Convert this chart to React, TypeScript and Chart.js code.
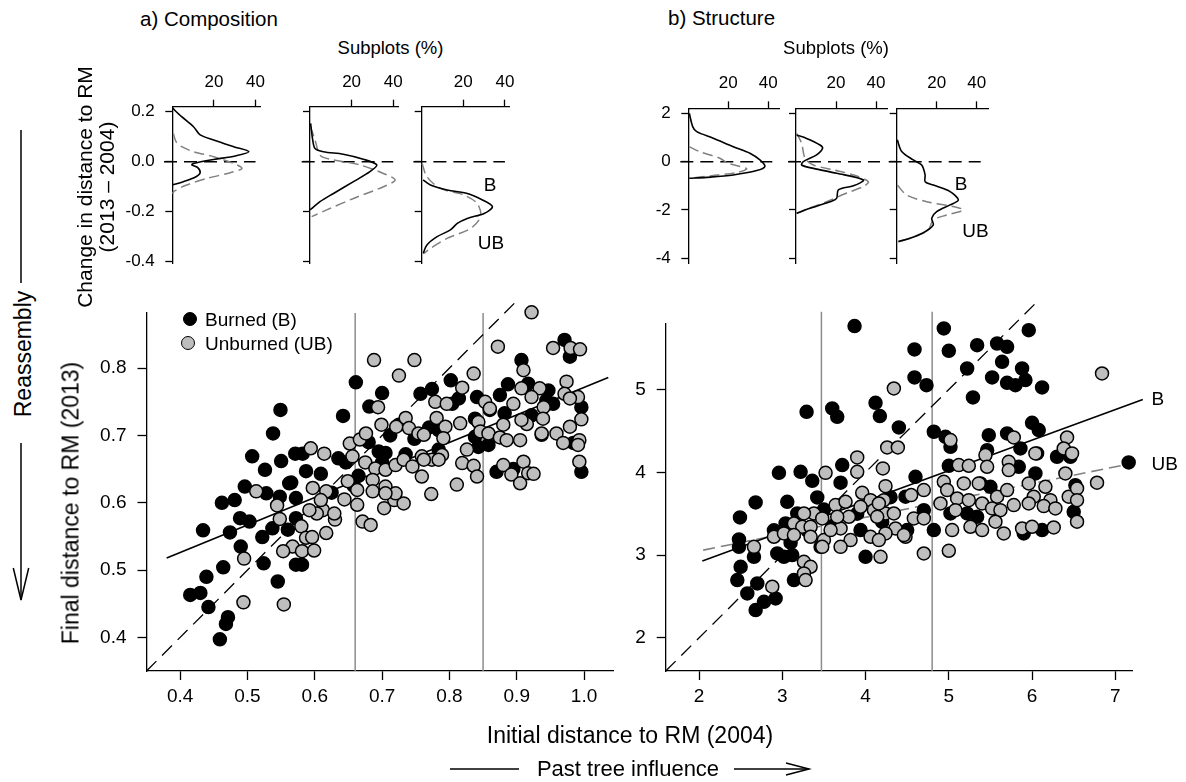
import React, { useEffect, useRef } from "react";
import { Chart, registerables } from "chart.js";

Chart.register(...registerables);

const FONT = "'Liberation Sans', Arial, Helvetica, sans-serif";
Chart.defaults.font.family = FONT;
Chart.defaults.color = "#000";

// ---------------- Scatter data: a) Composition ----------------
const compBurnedX = [0.661,0.700,0.681,0.642,0.757,0.774,0.549,0.538,0.507,0.526,0.550,0.571,0.582,0.587,0.609,0.635,0.646,0.695,0.705,0.496,0.565,
  0.462,0.481,0.434,0.474,0.489,0.503,0.490,0.522,0.524,0.537,0.545,0.572,0.581,0.464,0.439,0.415,0.430,0.442,0.471,0.468,0.459,0.528,0.548,0.562,0.572,0.560,0.572,
  0.907,0.887,0.802,0.971,0.979,0.875,0.917,0.947,0.944,0.954,0.996,0.841,0.814,0.804,0.860,0.838,0.882,0.922,0.843,0.858,0.838,0.784,0.937,0.984,0.870,0.996,0.895,0.784,
  0.712,0.725,0.748,0.665,0.700,0.625,0.680,0.770,0.735,0.658];
const compBurnedY = [0.779,0.763,0.743,0.729,0.762,0.769,0.738,0.703,0.669,0.649,0.662,0.673,0.673,0.647,0.643,0.666,0.660,0.676,0.674,0.624,0.630,
  0.600,0.604,0.559,0.556,0.577,0.572,0.535,0.549,0.510,0.562,0.483,0.508,0.508,0.504,0.490,0.463,0.466,0.445,0.430,0.420,0.397,0.614,0.609,0.629,0.607,0.560,0.577,
  0.812,0.776,0.782,0.842,0.817,0.760,0.777,0.767,0.752,0.747,0.742,0.757,0.755,0.747,0.738,0.725,0.733,0.730,0.683,0.686,0.698,0.708,0.701,0.689,0.646,0.646,0.650,0.679,
  0.700,0.716,0.695,0.640,0.660,0.615,0.690,0.712,0.672,0.625];

const compUnburnedX = [0.688,0.748,0.725,0.694,0.779,0.699,0.721,0.735,0.740,0.754,0.762,0.781,0.594,0.614,0.652,0.667,0.676,0.656,0.675,0.690,0.705,0.720,0.732,0.745,0.759,0.774,0.759,0.513,0.597,0.617,0.649,0.663,0.686,0.705,
  0.544,0.548,0.495,0.494,0.554,0.580,0.567,0.553,0.581,0.599,0.587,0.596,0.612,0.603,0.617,0.630,0.629,0.644,0.663,0.671,0.683,0.703,0.718,0.732,0.720,0.686,0.705,0.773,0.592,0.609,
  0.922,0.872,0.954,0.980,0.994,0.910,0.836,0.819,0.907,0.934,0.974,0.971,0.991,0.979,0.796,0.853,0.895,0.922,0.940,0.939,0.915,0.907,0.794,0.816,0.843,0.860,0.846,0.858,0.880,0.875,0.885,0.905,0.937,0.959,0.969,0.979,0.996,0.993,0.991,
  0.826,0.819,0.836,0.841,0.789,0.784,0.762,0.811,0.880,0.892,0.910,0.905,0.917,0.925,0.791,0.993];
const compUnburnedY = [0.812,0.812,0.789,0.742,0.750,0.716,0.713,0.726,0.711,0.703,0.701,0.726,0.681,0.673,0.688,0.694,0.703,0.669,0.660,0.651,0.649,0.656,0.664,0.654,0.669,0.664,0.639,0.617,0.622,0.617,0.632,0.619,0.634,0.624,
  0.596,0.576,0.517,0.452,0.449,0.565,0.535,0.528,0.528,0.529,0.548,0.549,0.589,0.584,0.555,0.575,0.584,0.605,0.597,0.572,0.567,0.592,0.604,0.599,0.614,0.617,0.614,0.613,0.589,0.604,
  0.883,0.832,0.830,0.830,0.828,0.797,0.792,0.771,0.770,0.770,0.780,0.762,0.757,0.755,0.747,0.750,0.747,0.757,0.742,0.725,0.717,0.723,0.713,0.718,0.720,0.740,0.706,0.703,0.716,0.697,0.693,0.693,0.703,0.703,0.689,0.713,0.724,0.693,0.686,
  0.679,0.659,0.655,0.639,0.671,0.664,0.664,0.627,0.656,0.642,0.661,0.629,0.644,0.643,0.696,0.661];

// ---------------- Scatter data: b) Structure ----------------
const strucBurnedX = [3.868,4.588,4.588,4.732,4.12,4.172,4.40,3.292,3.60,3.66,4.82,2.96,3.22,3.36,3.72,3.70,2.68,2.492,3.06,3.42,4.60,2.48,2.48,2.50,2.46,2.70,2.58,2.68,2.78,2.92,2.94,3.02,3.14,3.12,3.04,3.18,3.46,3.94,4.0,4.50,4.70,4.82,4.48,2.66,
  5.40,4.94,5.96,5.00,5.34,5.58,5.70,5.64,5.22,5.52,5.70,5.80,5.88,5.92,6.12,5.29,6.00,6.08,4.96,5.02,5.48,5.70,5.86,6.06,6.30,6.46,5.00,5.46,5.84,6.04,6.52,6.50,5.38,5.50,5.02,5.22,5.34,5.90,6.12,7.16,
  3.30,3.60,3.90,4.30,3.50,2.90,3.10,4.20];
const strucBurnedY = [5.766,5.484,5.146,5.053,4.84,4.679,4.542,4.731,4.771,4.671,4.49,3.994,4.006,3.898,4.087,3.874,3.636,3.455,3.644,3.696,3.946,3.189,3.10,2.859,2.698,2.658,2.537,2.336,2.436,2.477,3.02,2.98,2.698,3.0,3.382,3.503,3.10,3.302,2.98,3.302,3.543,3.302,3.705,2.98,
  5.927,5.738,5.717,5.468,5.536,5.556,5.516,5.335,5.254,5.146,5.081,5.053,5.254,5.114,5.025,4.904,4.598,4.51,4.429,4.308,4.449,4.469,4.288,4.228,4.188,4.188,4.079,4.268,4.067,3.986,3.845,3.523,3.866,3.825,3.503,3.503,3.463,3.262,3.302,4.119,
  3.30,3.35,3.50,3.70,3.55,3.30,3.15,3.40];

const strucUnburnedX = [4.34,3.90,3.90,3.52,4.26,4.388,4.208,3.96,4.24,4.70,4.548,4.58,4.70,4.70,4.18,4.06,4.10,4.22,4.24,4.36,4.48,3.38,3.26,3.14,3.24,3.34,2.90,3.02,2.66,2.88,3.26,3.34,3.26,3.28,3.50,3.48,3.64,3.76,3.80,3.70,3.58,3.82,3.70,3.48,3.94,4.14,4.24,4.06,4.16,4.16,4.34,3.14,3.34,3.66,
  6.84,5.78,5.02,6.42,6.38,6.48,6.04,5.44,5.72,5.72,5.12,5.24,5.46,4.94,5.18,5.36,5.96,6.16,6.78,4.98,5.10,4.90,5.24,5.58,5.70,6.02,6.22,6.40,6.44,6.54,6.54,5.40,5.52,5.62,5.78,5.96,6.14,6.28,5.08,4.46,5.26,5.40,5.56,5.66,5.88,6.00,6.26,6.54,5.04,5.00];
const strucUnburnedY = [5.013,4.18,4.006,3.994,4.30,4.30,4.047,3.753,3.833,3.785,3.725,3.443,3.443,3.02,2.98,3.664,3.543,3.664,3.503,3.322,3.221,3.503,3.503,3.382,3.342,3.342,3.221,3.262,3.10,2.618,2.919,2.859,2.779,2.698,3.181,3.443,3.604,3.644,3.463,3.322,3.302,3.181,3.10,3.10,3.584,3.463,3.262,3.221,3.181,3.624,3.503,3.242,3.221,3.463,
  5.194,4.421,4.389,4.421,4.288,4.228,4.228,4.208,4.127,4.027,4.087,4.079,4.067,3.886,3.866,3.866,3.866,3.825,3.874,3.785,3.684,3.624,3.664,3.705,3.785,3.705,3.664,3.986,3.705,3.805,3.664,3.624,3.564,3.543,3.604,3.624,3.592,3.564,3.543,3.242,3.342,3.302,3.403,3.262,3.322,3.342,3.334,3.403,3.302,3.052];

// reference / regression lines
const compOneToOne = [0.35, 0.9];
const compRefLines = [0.66, 0.85];
const compFitBX = [0.38, 1.036];
const compFitBY = [0.518, 0.786];
const strucOneToOne = [1.6, 6.08];
const strucRefLines = [3.47, 4.8];
const strucFitBX = [2.04, 7.33];
const strucFitBY = [2.93, 4.88];
const strucFitUBX = [2.05, 7.21];
const strucFitUBY = [3.06, 4.11];

// axis ticks
const compXTicks = [0.4, 0.5, 0.6, 0.7, 0.8, 0.9, 1.0];
const compYTicks = [0.4, 0.5, 0.6, 0.7, 0.8];
const strucXTicks = [2, 3, 4, 5, 6, 7];
const strucYTicks = [2, 3, 4, 5];
const densPctTicks = [20, 40];
const densCompTicks = [0.2, 0, -0.2, -0.4];
const densStrucTicks = [2, 0, -2, -4];

// ---------------- Density curves (Subplots %, change) ----------------
const a1BPct = [0, 4.5, 10.2, 13.4, 19.9, 29.5, 36.8, 30.3, 19.9, 10.2, 9.4, 12.1, 13.4, 11.4, 5.3, 0];
const a1BVal = [0.215, 0.18, 0.14, 0.107, 0.087, 0.06, 0.04, 0.023, 0.009, -0.007, -0.013, -0.023, -0.044, -0.06, -0.08, -0.093];
const a1UBPct = [0.5, 1.8, 4.5, 10.2, 19.9, 29.5, 33.5, 27.9, 16.6, 6.9, 1.3, 0];
const a1UBVal = [0.113, 0.08, 0.06, 0.04, 0.02, -0.007, -0.027, -0.044, -0.067, -0.093, -0.116, -0.127];
const a2BPct = [0.3, 1.3, 2.4, 6.4, 16, 25.6, 32.1, 28.8, 20.9, 11.3, 4.8, 0];
const a2BVal = [0.153, 0.087, 0.053, 0.04, 0.03, 0.01, -0.013, -0.04, -0.08, -0.127, -0.16, -0.193];
const a2UBPct = [0.2, 2.4, 4, 5.6, 11.3, 24, 35.3, 40.9, 35.3, 20.9, 8, 0.8];
const a2UBVal = [0.14, 0.087, 0.04, 0.02, 0.007, -0.013, -0.047, -0.073, -0.1, -0.147, -0.193, -0.22];
const a3BPct = [0.7, 4.2, 12.2, 21.9, 29.2, 34, 30, 21.9, 17.1, 13.8, 7.4, 2.5, 0.7];
const a3BVal = [-0.073, -0.093, -0.113, -0.127, -0.153, -0.18, -0.207, -0.227, -0.247, -0.273, -0.3, -0.333, -0.367];
const a3UBPct = [0.2, 2.5, 9, 20.2, 26.7, 28.3, 23.5, 12.2, 4.2, 1];
const a3UBVal = [-0.007, -0.06, -0.107, -0.133, -0.167, -0.22, -0.267, -0.307, -0.347, -0.367];

const b1BPct = [0.5, 2.2, 4.2, 12.5, 22.5, 30.8, 35.8, 38.3, 34.2, 22.5, 9.2, 0.5];
const b1BVal = [2.0, 1.45, 1.24, 0.97, 0.62, 0.35, 0.07, -0.2, -0.37, -0.55, -0.65, -0.69];
const b1UBPct = [0.5, 5.8, 15.8, 20, 25.8, 29.2, 24.2, 10.8, 0.5];
const b1UBVal = [0.62, 0.41, 0.14, -0.07, -0.2, -0.3, -0.45, -0.59, -0.69];
const b2BPct = [0.3, 5.3, 12, 13.3, 10.3, 3.7, 2.8, 8.7, 20.3, 33.7, 28.7, 21.2, 20.3, 17, 7, 0.3];
const b2BVal = [1.1, 0.96, 0.69, 0.55, 0.28, 0.0, -0.14, -0.28, -0.48, -0.76, -1.0, -1.17, -1.52, -1.66, -1.93, -2.14];
const b2UBPct = [0.3, 2.8, 4.5, 8.7, 18.7, 28.7, 36.2, 33.7, 25.3, 15.3, 5.3, 0.3];
const b2UBVal = [1.17, 0.76, 0.14, -0.14, -0.34, -0.55, -0.83, -1.03, -1.3, -1.66, -1.97, -2.14];
const b3BPct = [0.3, 2.5, 8.3, 12.5, 14.2, 14.2, 18.3, 26.7, 30.8, 26.7, 20, 17.5, 18.3, 14.2, 6.7, 0.8];
const b3BVal = [0.9, 0.42, 0.07, -0.14, -0.55, -0.83, -0.97, -1.24, -1.59, -1.79, -2.07, -2.34, -2.62, -2.9, -3.17, -3.31];
const b3UBPct = [0.3, 5, 15, 28.3, 33.3, 25, 18.3, 15.8, 8.3, 0.8];
const b3UBVal = [-0.97, -1.38, -1.66, -1.86, -2.0, -2.21, -2.41, -2.83, -3.13, -3.31];

// ---------------- helpers ----------------
const zip = (xs: number[], ys: number[]) => xs.map((x, i) => ({ x, y: ys[i] }));

const fitAxis = (size: number) => (scale: any) => {
  if (scale.isHorizontal()) scale.height = size;
  else scale.width = size;
  scale.paddingLeft = 0;
  scale.paddingRight = 0;
  scale.paddingTop = 0;
  scale.paddingBottom = 0;
};
const setTicks = (vals: number[]) => (scale: any) => {
  scale.ticks = vals.map((v) => ({ value: v }));
};

type Box = { left: number; top: number; width: number; height: number };

function ChartCanvas({ box, config }: { box: Box; config: any }) {
  const ref = useRef<HTMLCanvasElement>(null);
  useEffect(() => {
    const chart = new Chart(ref.current as HTMLCanvasElement, config);
    return () => chart.destroy();
  }, []);
  return (
    <canvas
      ref={ref}
      width={box.width}
      height={box.height}
      style={{ position: "absolute", left: box.left, top: box.top, width: box.width, height: box.height }}
    />
  );
}

const axisGrid = (len: number) => ({
  display: true,
  drawOnChartArea: false,
  drawTicks: true,
  tickLength: len,
  tickWidth: 1.3,
  tickColor: "#000",
});
const axisBorder = { display: true, color: "#000", width: 1.3 };

function lineDs(xs: number[], ys: number[], color: string, width: number, dash: number[], order: number, tension = 0) {
  return {
    data: zip(xs, ys),
    showLine: true,
    borderColor: color,
    borderWidth: width,
    borderDash: dash,
    pointRadius: 0,
    fill: false,
    tension,
    order,
    clip: false,
  };
}
function pointDs(xs: number[], ys: number[], fillColor: string, order: number) {
  return {
    data: zip(xs, ys),
    showLine: false,
    pointRadius: 6.5,
    pointBorderWidth: 1.5,
    pointBackgroundColor: fillColor,
    pointBorderColor: "#000",
    backgroundColor: fillColor,
    borderColor: "#000",
    order,
    clip: false,
  };
}

function scatterConfig(o: any) {
  return {
    type: "scatter",
    data: { datasets: o.datasets },
    options: {
      animation: false,
      responsive: false,
      devicePixelRatio: 1,
      events: [],
      layout: { autoPadding: false, padding: { left: 0, top: o.padTop, right: o.padRight, bottom: 0 } },
      plugins: { legend: { display: false }, tooltip: { enabled: false } },
      scales: {
        x: {
          type: "linear",
          position: "bottom",
          min: o.xMin,
          max: o.xMax,
          afterBuildTicks: setTicks(o.xTicks),
          afterFit: fitAxis(o.xAxisH),
          ticks: { autoSkip: false, maxRotation: 0, padding: 5, color: "#000", font: { family: FONT, size: 19 }, callback: (v: any) => Number(v).toFixed(o.xDec) },
          grid: axisGrid(9),
          border: axisBorder,
        },
        y: {
          type: "linear",
          position: "left",
          min: o.yMin,
          max: o.yMax,
          afterBuildTicks: setTicks(o.yTicks),
          afterFit: fitAxis(o.yAxisW),
          ticks: { autoSkip: false, padding: 11, color: "#000", font: { family: FONT, size: 19 }, callback: (v: any) => Number(v).toFixed(o.yDec) },
          grid: axisGrid(9),
          border: axisBorder,
        },
      },
    },
  };
}

function densityConfig(o: any) {
  return {
    type: "scatter",
    data: {
      datasets: [
        lineDs(o.zeroX, [0, 0], "#000", 1.5, [13, 7], 3),
        lineDs(o.ubPct, o.ubVal, "#808080", 1.5, [10, 5], 2, 0.3),
        lineDs(o.bPct, o.bVal, "#000", 1.6, [], 1, 0.3),
      ],
    },
    options: {
      animation: false,
      responsive: false,
      devicePixelRatio: 1,
      events: [],
      layout: { autoPadding: false, padding: { left: 0, top: 0, right: o.padRight, bottom: o.padBottom } },
      plugins: { legend: { display: false }, tooltip: { enabled: false } },
      scales: {
        x: {
          type: "linear",
          position: "top",
          min: 0,
          max: o.xMax,
          afterBuildTicks: setTicks(densPctTicks),
          afterFit: fitAxis(o.xAxisH),
          ticks: { autoSkip: false, maxRotation: 0, padding: 7.5, color: "#000", font: { family: FONT, size: 17 }, callback: (v: any) => String(v) },
          grid: axisGrid(7),
          border: axisBorder,
        },
        y: {
          type: "linear",
          position: "left",
          min: o.yMin,
          max: o.yMax,
          afterBuildTicks: setTicks(o.yTicks),
          afterFit: fitAxis(o.yAxisW),
          ticks: {
            autoSkip: false,
            padding: 10.5,
            color: "#000",
            font: { family: FONT, size: 17 },
            callback: (v: any) => (o.showLabels ? Number(v).toFixed(o.yDec) : ""),
          },
          grid: axisGrid(7),
          border: axisBorder,
        },
      },
    },
  };
}

function Label({ x, y, text, size, anchor = "middle", rotate = false }: any) {
  const tx = anchor === "start" ? "0" : anchor === "end" ? "-100%" : "-50%";
  return (
    <div
      style={{
        position: "absolute",
        left: x,
        top: y,
        transform: `translate(${tx}, -50%)${rotate ? " rotate(-90deg)" : ""}`,
        fontFamily: FONT,
        fontSize: size,
        lineHeight: 1,
        whiteSpace: "nowrap",
        color: "#000",
      }}
    >
      {text}
    </div>
  );
}

export default function App() {
  const compScatter = scatterConfig({
    xMin: 0.35, xMax: 1.043, yMin: 0.35, yMax: 0.882,
    xTicks: compXTicks, yTicks: compYTicks, xDec: 1, yDec: 1,
    yAxisW: 106.5, xAxisH: 59, padTop: 23, padRight: 27,
    datasets: [
      lineDs([compRefLines[0], compRefLines[0]], [0.35, 0.882], "#8c8c8c", 1.5, [], 10),
      lineDs([compRefLines[1], compRefLines[1]], [0.35, 0.882], "#8c8c8c", 1.5, [], 10),
      lineDs(compOneToOne, compOneToOne, "#000", 1.3, [14, 8], 9),
      lineDs(compFitBX, compFitBY, "#000", 1.6, [], 8),
      pointDs(compBurnedX, compBurnedY, "#000", 2),
      pointDs(compUnburnedX, compUnburnedY, "#bebebe", 1),
    ],
  });
  const strucScatter = scatterConfig({
    xMin: 1.6, xMax: 7.2, yMin: 1.6, yMax: 5.8,
    xTicks: strucXTicks, yTicks: strucYTicks, xDec: 0, yDec: 0,
    yAxisW: 65.7, xAxisH: 59, padTop: 33.3, padRight: 54,
    datasets: [
      lineDs([strucRefLines[0], strucRefLines[0]], [1.6, 5.94], "#8c8c8c", 1.5, [], 10),
      lineDs([strucRefLines[1], strucRefLines[1]], [1.6, 5.94], "#8c8c8c", 1.5, [], 10),
      lineDs(strucOneToOne, strucOneToOne, "#000", 1.3, [14, 8], 9),
      lineDs(strucFitBX, strucFitBY, "#000", 1.6, [], 8),
      lineDs(strucFitUBX, strucFitUBY, "#808080", 1.6, [12, 6], 8),
      pointDs(strucBurnedX, strucBurnedY, "#000", 2),
      pointDs(strucUnburnedX, strucUnburnedY, "#bebebe", 1),
    ],
  });

  const compDens = { yMin: -0.4065, yMax: 0.22, yTicks: densCompTicks, yDec: 1, xMax: 42.3, xAxisH: 46.7, padBottom: 11.7, zeroX: [-4, 40] };
  const strucDens = { yMin: -4.207, yMax: 2.207, yTicks: densStrucTicks, yDec: 0, xMax: 45.75, xAxisH: 48.3, padBottom: 11.7, zeroX: [-4, 42] };

  const d1 = densityConfig({ ...compDens, bPct: a1BPct, bVal: a1BVal, ubPct: a1UBPct, ubVal: a1UBVal, yAxisW: 60.3, padRight: 21.7, showLabels: true });
  const d2 = densityConfig({ ...compDens, bPct: a2BPct, bVal: a2BVal, ubPct: a2UBPct, ubVal: a2UBVal, yAxisW: 20, padRight: 22, showLabels: false });
  const d3 = densityConfig({ ...compDens, bPct: a3BPct, bVal: a3BVal, ubPct: a3UBPct, ubVal: a3UBVal, yAxisW: 21.7, padRight: 15.3, showLabels: false });
  const d4 = densityConfig({ ...strucDens, bPct: b1BPct, bVal: b1BVal, ubPct: b1UBPct, ubVal: b1UBVal, yAxisW: 48.3, padRight: 20.2, showLabels: true });
  const d5 = densityConfig({ ...strucDens, bPct: b2BPct, bVal: b2BVal, ubPct: b2UBPct, ubVal: b2UBVal, yAxisW: 20, padRight: 8.5, showLabels: false });
  const d6 = densityConfig({ ...strucDens, bPct: b3BPct, bVal: b3BVal, ubPct: b3UBPct, ubVal: b3UBVal, yAxisW: 20.7, padRight: 17.8, showLabels: false });

  return (
    <div style={{ position: "absolute", left: 0, top: 0, width: 1186, height: 782, background: "#fff", overflow: "hidden" }}>
      <ChartCanvas box={{ left: 40, top: 290, width: 600, height: 440 }} config={compScatter} />
      <ChartCanvas box={{ left: 600, top: 290, width: 586, height: 440 }} config={strucScatter} />
      <ChartCanvas box={{ left: 112, top: 60, width: 170, height: 215 }} config={d1} />
      <ChartCanvas box={{ left: 290, top: 60, width: 130, height: 215 }} config={d2} />
      <ChartCanvas box={{ left: 400, top: 60, width: 125, height: 215 }} config={d3} />
      <ChartCanvas box={{ left: 640, top: 60, width: 160, height: 215 }} config={d4} />
      <ChartCanvas box={{ left: 776, top: 60, width: 120, height: 215 }} config={d5} />
      <ChartCanvas box={{ left: 876, top: 60, width: 130, height: 215 }} config={d6} />

      <Label x={140} y={18.5} text="a) Composition" size={20.5} anchor="start" />
      <Label x={668} y={17.5} text="b) Structure" size={20.5} anchor="start" />
      <Label x={390.5} y={48} text="Subplots (%)" size={18.5} />
      <Label x={836} y={48} text="Subplots (%)" size={18.5} />
      <Label x={83.5} y={187} text="Change in distance to RM" size={21} rotate />
      <Label x={106} y={187} text="(2013 – 2004)" size={21} rotate />
      <Label x={490} y={183.5} text="B" size={19} />
      <Label x={491} y={241.7} text="UB" size={19} />
      <Label x={961} y={183} text="B" size={19} />
      <Label x={975.5} y={230.3} text="UB" size={19} />

      <Label x={22.5} y={354} text="Reassembly" size={23} rotate />
      <Label x={70.8} y={502.5} text="Final distance to RM (2013)" size={23} rotate />
      <Label x={630} y={735} text="Initial distance to RM (2004)" size={23} />
      <Label x={628} y={769} text="Past tree influence" size={22} />
      <Label x={1151.5} y={397.5} text="B" size={19} anchor="start" />
      <Label x={1151.5} y={462.5} text="UB" size={19} anchor="start" />

      <div style={{ position: "absolute", left: 182.5, top: 311.5, width: 12, height: 12, borderRadius: "50%", background: "#000", border: "1.5px solid #000" }} />
      <div style={{ position: "absolute", left: 181, top: 336, width: 12, height: 12, borderRadius: "50%", background: "#bebebe", border: "1.5px solid #000" }} />
      <Label x={205} y={319} text="Burned (B)" size={19} anchor="start" />
      <Label x={205} y={343.3} text="Unburned (UB)" size={19} anchor="start" />

      <svg width={1186} height={782} style={{ position: "absolute", left: 0, top: 0, pointerEvents: "none" }}>
        <g stroke="#000" strokeWidth={1.5} fill="none">
          <line x1={21} y1={130} x2={21} y2={283} />
          <line x1={21} y1={443} x2={21} y2={600} />
          <polyline points="13.3,568 21,600 28.7,568" />
          <line x1={450} y1={769} x2={519} y2={769} />
          <line x1={734} y1={769} x2={809} y2={769} />
          <polyline points="786,763 809,769 786,775" />
        </g>
      </svg>
    </div>
  );
}
